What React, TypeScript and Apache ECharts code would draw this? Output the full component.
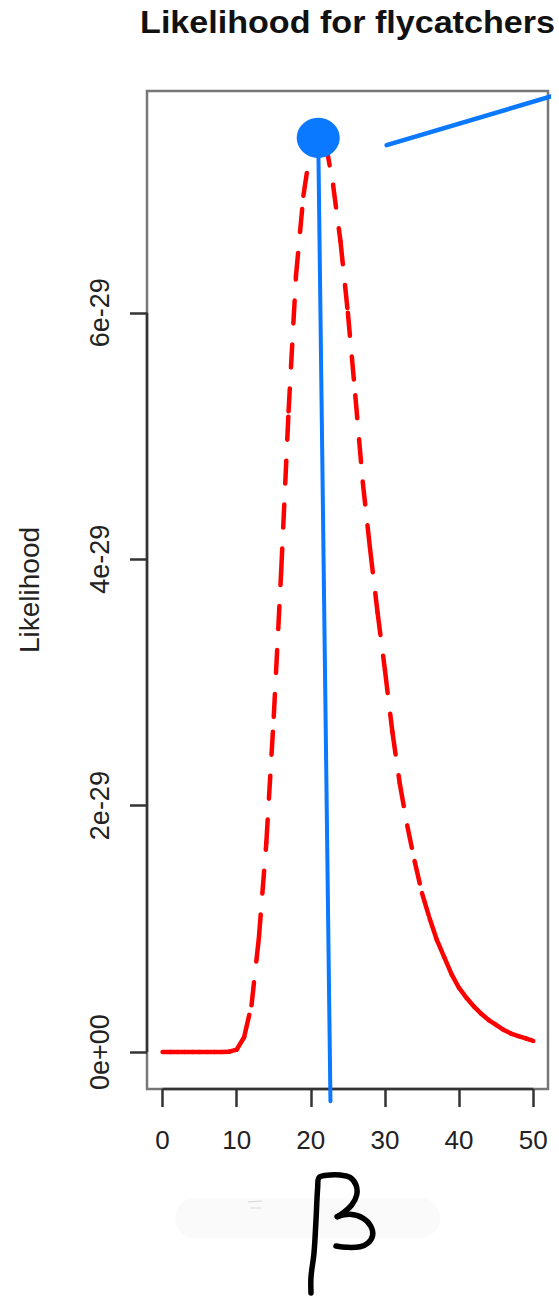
import React, { useEffect, useRef } from "react";
import * as echarts from "echarts";

// beta grid (x) and likelihood values (in units of 1e-29)
const betaValues = [
  0, 1, 2, 3, 4, 5, 6, 7, 8, 9, 10, 11, 12, 13, 14, 15, 16, 17, 18, 19, 20,
  21, 22, 23, 24, 25, 26, 27, 28, 29, 30, 31, 32, 33, 34, 35, 36, 37, 38, 39,
  40, 41, 42, 43, 44, 45, 46, 47, 48, 49, 50,
];
const likelihoodValues = [
  0, 0, 0, 0, 0, 0, 0, 0, 0, 0.003, 0.02, 0.12, 0.38, 0.93, 1.7, 2.72, 3.9,
  5.2, 6.3, 6.95, 7.35, 7.52, 7.38, 7.04, 6.58, 6.0, 5.33, 4.63, 4.08, 3.57,
  3.1, 2.6, 2.18, 1.84, 1.55, 1.29, 1.09, 0.91, 0.77, 0.63, 0.52, 0.44, 0.37,
  0.31, 0.26, 0.22, 0.18, 0.15, 0.13, 0.11, 0.09,
];

const xTickValues = [0, 10, 20, 30, 40, 50];
const yTickValues = [0, 2, 4, 6];
const yTickLabels = ["0e+00", "2e-29", "4e-29", "6e-29"];

const xMin = -2.1;
const xMax = 52;
const yMin = -0.3;
const yMax = 7.8;

// hand-drawn annotation (data coordinates)
const mleDot = [21.0, 7.42];
const mleDrop = [
  [21.0, 7.42],
  [22.65, -0.4],
];
const pointerLine = [
  [30.23, 7.36],
  [54.3, 7.79],
];

const FONT = "'Liberation Sans', Arial, Helvetica, sans-serif";
const BLUE = "#0a78ff";

export default function App() {
  const ref = useRef<HTMLDivElement>(null);

  useEffect(() => {
    document.body.style.margin = "0";
    if (!ref.current) return;
    const chart = echarts.init(ref.current, undefined, { renderer: "svg" });

    const curveData = betaValues.map((b, i) => [b, likelihoodValues[i]]);

    const option: any = {
      animation: false,
      backgroundColor: "#ffffff",
      grid: {
        left: 147,
        right: 11,
        top: 91,
        bottom: 209,
        show: true,
        borderColor: "#777777",
        borderWidth: 2.5,
      },
      xAxis: {
        type: "value",
        min: xMin,
        max: xMax,
        axisLine: { show: false, onZero: false },
        splitLine: { show: false },
        axisTick: {
          show: true,
          length: 18,
          customValues: xTickValues,
          lineStyle: { color: "#333333", width: 2.5 },
        },
        axisLabel: {
          customValues: xTickValues,
          fontSize: 26,
          color: "#222222",
          fontFamily: FONT,
          margin: 38,
        },
      },
      yAxis: {
        type: "value",
        min: yMin,
        max: yMax,
        axisLine: { show: false, onZero: false },
        splitLine: { show: false },
        axisTick: {
          show: true,
          length: 17,
          customValues: yTickValues,
          lineStyle: { color: "#333333", width: 2.5 },
        },
        axisLabel: {
          customValues: yTickValues,
          rotate: 90,
          fontSize: 27,
          color: "#222222",
          fontFamily: FONT,
          margin: 34,
          formatter: (v: number) => {
            const idx = yTickValues.findIndex((t) => Math.abs(t - v) < 1e-9);
            return idx >= 0 ? yTickLabels[idx] : "";
          },
        },
        name: "Likelihood",
        nameLocation: "middle",
        nameRotate: 90,
        nameGap: 104,
        nameTextStyle: { fontSize: 28, color: "#222222", fontFamily: FONT },
      },
      series: [
        {
          type: "line",
          data: [
            [xTickValues[0], yMin],
            [xTickValues[xTickValues.length - 1], yMin],
          ],
          symbol: "none",
          clip: false,
          silent: true,
          lineStyle: { color: "#333333", width: 2.5 },
          z: 1,
        },
        {
          type: "line",
          data: [
            [xMin, yTickValues[0]],
            [xMin, yTickValues[yTickValues.length - 1]],
          ],
          symbol: "none",
          clip: false,
          silent: true,
          lineStyle: { color: "#333333", width: 2.5 },
          z: 1,
        },
        {
          type: "custom",
          data: curveData,
          encode: { x: 0, y: 1 },
          clip: false,
          silent: true,
          z: 2,
          renderItem: (params: any, api: any) => {
            const i = params.dataIndex;
            if (i === 0) return { type: "group", children: [] };
            const p0 = api.coord([betaValues[i - 1], likelihoodValues[i - 1]]);
            const p1 = api.coord([api.value(0), api.value(1)]);
            return {
              type: "line",
              shape: { x1: p0[0], y1: p0[1], x2: p1[0], y2: p1[1] },
              style: {
                stroke: "#ff0000",
                lineWidth: 4.5,
                lineDash: [23, 21],
                lineCap: "round",
              },
            };
          },
        },
        {
          type: "line",
          data: mleDrop,
          symbol: "none",
          clip: false,
          silent: true,
          lineStyle: { color: BLUE, width: 4, cap: "round" },
          z: 5,
        },
        {
          type: "line",
          data: pointerLine,
          symbol: "none",
          clip: false,
          silent: true,
          lineStyle: { color: BLUE, width: 4.5, cap: "round" },
          z: 5,
        },
        {
          type: "scatter",
          data: [mleDot],
          symbol: "circle",
          symbolSize: [43, 40],
          clip: false,
          silent: true,
          itemStyle: { color: BLUE, opacity: 1 },
          z: 6,
        },
      ],
      graphic: [
        {
          type: "text",
          x: 347.5,
          y: 22.5,
          scaleX: 1.1,
          style: {
            text: "Likelihood for flycatchers",
            fontSize: 31,
            fontWeight: "bold",
            fontFamily: FONT,
            fill: "#111111",
            align: "center",
            verticalAlign: "middle",
          },
        },
        {
          type: "rect",
          shape: { x: 175, y: 1198, width: 265, height: 40, r: 20 },
          style: { fill: "#fafafa" },
          z: 0,
        },
        {
          type: "line",
          shape: { x1: 248, y1: 1202, x2: 262, y2: 1201 },
          style: { stroke: "#d8d8d8", lineWidth: 1.2 },
        },
        {
          type: "line",
          shape: { x1: 250, y1: 1208, x2: 261, y2: 1208 },
          style: { stroke: "#e0e0e0", lineWidth: 1.2 },
        },
        {
          type: "polyline",
          shape: {
            points: [
              [311, 1293],
              [311, 1277],
              [314, 1253],
              [316, 1220],
              [317.7, 1187],
              [319.3, 1177.3],
              [330, 1175],
              [340, 1175],
              [350, 1177.3],
              [356, 1185],
              [356.7, 1195],
              [351.7, 1205],
              [343.3, 1212.7],
              [337.3, 1216.7],
            ],
            smooth: 0.35,
          },
          style: {
            stroke: "#000000",
            lineWidth: 5.5,
            lineCap: "round",
            lineJoin: "round",
            fill: null,
          },
          z: 10,
        },
        {
          type: "polyline",
          shape: {
            points: [
              [337.3, 1216.7],
              [350, 1214.3],
              [363.3, 1218.3],
              [370.7, 1226],
              [372.7, 1235],
              [368.3, 1242.7],
              [360, 1246.7],
              [346.7, 1247.3],
              [336, 1246],
            ],
            smooth: 0.35,
          },
          style: {
            stroke: "#000000",
            lineWidth: 5.5,
            lineCap: "round",
            lineJoin: "round",
            fill: null,
          },
          z: 10,
        },
      ],
    };

    chart.setOption(option);
    return () => chart.dispose();
  }, []);

  return <div ref={ref} style={{ width: 559, height: 1298 }} />;
}
